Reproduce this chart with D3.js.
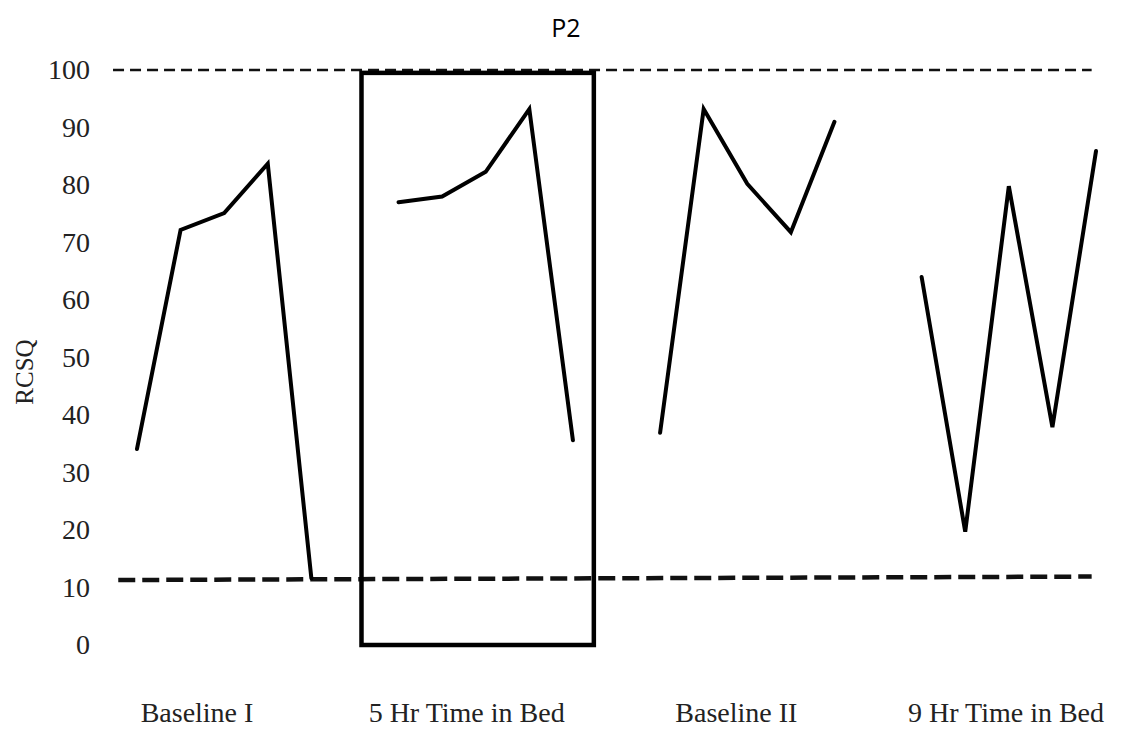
<!DOCTYPE html>
<html>
<head>
<meta charset="utf-8">
<script src="https://cdn.jsdelivr.net/npm/d3@7"></script>
<style>
  html, body { margin: 0; padding: 0; background: #fff; }
  svg { display: block; }
</style>
</head>
<body>
<div id="chart"></div>
<script>
const WIDTH = 1128,
      HEIGHT = 732

// observation index along x (groups of 5 with a gap between phases)
const phases = ['Baseline I', '5 Hr Time in Bed', 'Baseline II', '9 Hr Time in Bed']
const baseline1 = [34.1, 72.2, 75.1, 83.7, 11.6]
const fiveHr = [77, 78, 82.3, 93.2, 35.6]
const baseline2 = [36.9, 93.2, 80.2, 71.8, 91]
const nineHr = [64, 19.7, 79.8, 37.9, 85.9]
const yTicks = [0, 10, 20, 30, 40, 50, 60, 70, 80, 90, 100]

// reference lines and the highlight box (in data units)
const upperLine = [[0.45, 100], [22.9, 100]]
const lowerLine = [[0.57, 11.3], [22.9, 11.9]]
const boxX = [6.15, 11.48],
      boxY = [0, 99.5]

const series = [baseline1, fiveHr, baseline2, nineHr].map((vals, g) =>
  vals.map((v, i) => ({ idx: g * 6 + i + 1, value: v })))

const x = d3.scaleLinear().domain([1, 23]).range([137, 1096])
const y = d3.scaleLinear().domain([0, 100]).range([645, 70])
const xPhase = d3.scalePoint().domain(phases).range([197, 1006])

const svg = d3.select('#chart')
  .append('svg')
  .attr('width', WIDTH)
  .attr('height', HEIGHT)

svg.append('text')
  .attr('x', 566)
  .attr('y', 37)
  .attr('text-anchor', 'middle')
  .style('font-family', '"Open Sans", sans-serif')
  .style('font-size', '25px')
  .text('P2')

const yAxis = svg.append('g')
  .attr('transform', 'translate(96,0)')
  .call(d3.axisLeft(y).tickValues(yTicks).tickSize(0).tickPadding(6))
yAxis.select('.domain').remove()
yAxis.selectAll('text')
  .style('font-family', '"Liberation Serif", "Times New Roman", serif')
  .style('font-size', '28px')
  .attr('fill', '#222')

svg.append('text')
  .attr('transform', 'translate(33,372) rotate(-90)')
  .attr('text-anchor', 'middle')
  .style('font-family', '"Liberation Serif", "Times New Roman", serif')
  .style('font-size', '25px')
  .attr('fill', '#222')
  .text('RCSQ')

svg.append('g')
  .selectAll('text')
  .data(phases)
  .enter()
  .append('text')
  .attr('x', d => xPhase(d))
  .attr('y', 722)
  .attr('text-anchor', 'middle')
  .style('font-family', '"Liberation Serif", "Times New Roman", serif')
  .style('font-size', '28px')
  .attr('fill', '#222')
  .text(d => d)

const refLine = d3.line().x(d => x(d[0])).y(d => y(d[1]))

svg.append('path')
  .attr('d', refLine(upperLine))
  .attr('fill', 'none')
  .attr('stroke', '#111')
  .attr('stroke-width', 2.5)
  .attr('stroke-dasharray', '11,6')

svg.append('path')
  .attr('d', refLine(lowerLine))
  .attr('fill', 'none')
  .attr('stroke', '#111')
  .attr('stroke-width', 4.5)
  .attr('stroke-dasharray', '17,7')

svg.append('rect')
  .attr('x', x(boxX[0]))
  .attr('y', y(boxY[1]))
  .attr('width', x(boxX[1]) - x(boxX[0]))
  .attr('height', y(boxY[0]) - y(boxY[1]))
  .attr('fill', 'none')
  .attr('stroke', '#000')
  .attr('stroke-width', 4.5)

const line = d3.line().x(d => x(d.idx)).y(d => y(d.value))

svg.append('g')
  .selectAll('path')
  .data(series)
  .enter()
  .append('path')
  .attr('d', line)
  .attr('fill', 'none')
  .attr('stroke', '#000')
  .attr('stroke-width', 4)
  .attr('stroke-linejoin', 'miter')
  .attr('stroke-linecap', 'round')
</script>
</body>
</html>
